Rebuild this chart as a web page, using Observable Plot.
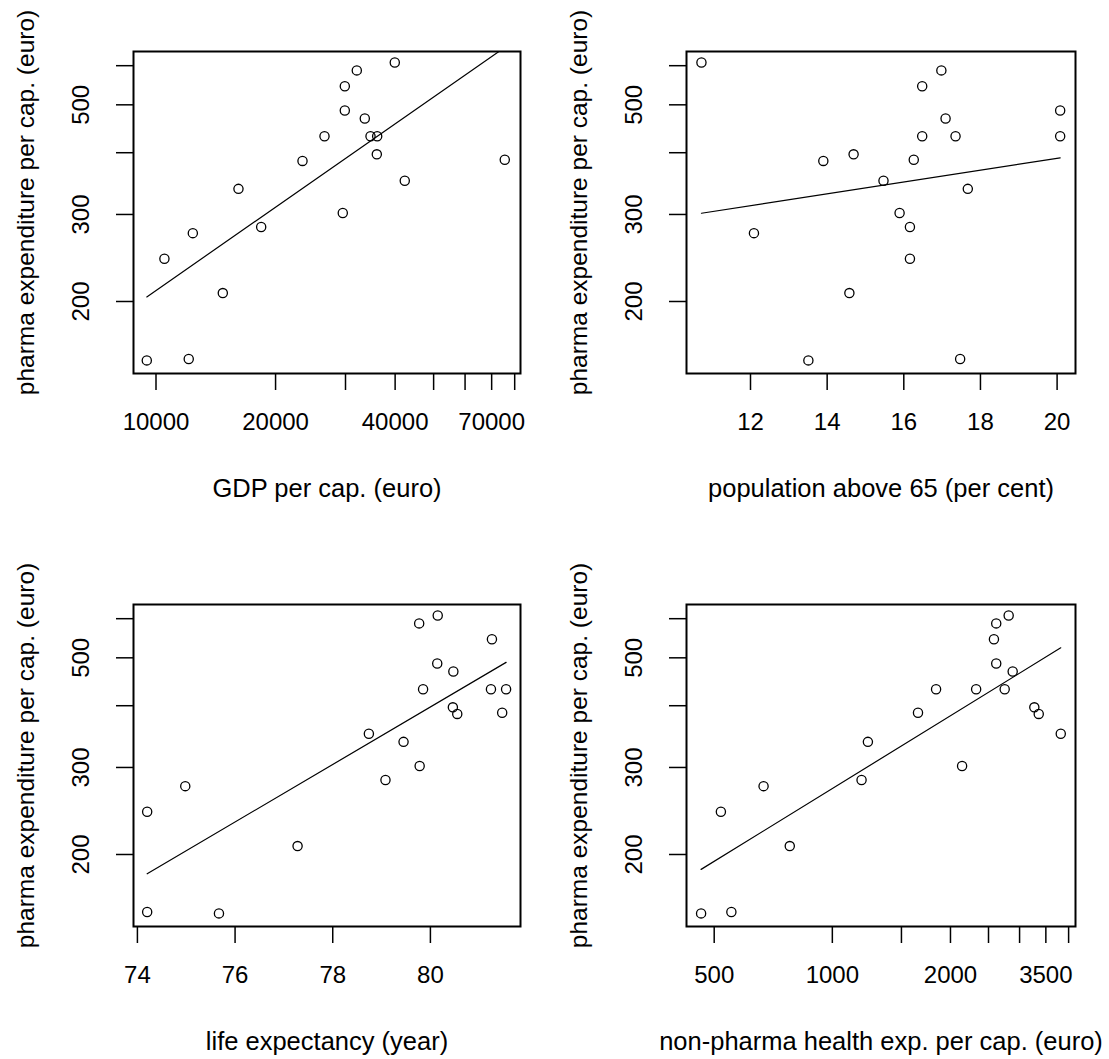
<!DOCTYPE html>
<html>
<head>
<meta charset="utf-8">
<script src="https://cdn.jsdelivr.net/npm/d3@7"></script>
<script src="https://cdn.jsdelivr.net/npm/@observablehq/plot@0.6"></script>
<style>
  html, body { margin: 0; padding: 0; background: #fff; }
  #root { position: relative; width: 1109px; height: 1059px; overflow: hidden; background: #fff; }
  .cell { position: absolute; }
</style>
</head>
<body>
<div id="root"></div>
<script>
// ---- data (one entry per country) ----
const pharma    = [609, 587, 545, 487, 469, 432, 432, 432, 385, 397, 387, 351, 338, 302, 283, 275, 244, 208, 152, 153];
const gdp       = [39920, 32030, 29880, 29880, 33550, 26560, 34680, 36050, 23380, 35970, 75530, 42300, 16130, 29530, 18400, 12380, 10500, 14730, 9480, 12090];
const pop65     = [10.72, 16.98, 16.48, 20.08, 17.09, 16.48, 17.35, 20.08, 13.90, 14.69, 16.26, 15.47, 17.67, 15.89, 16.16, 12.09, 16.16, 14.58, 13.51, 17.47];
const lifeExp   = [80.15, 79.77, 81.26, 80.14, 80.47, 79.85, 81.24, 81.55, 80.55, 80.46, 81.47, 78.74, 79.45, 79.78, 79.08, 74.98, 74.20, 77.28, 75.67, 74.20];
const nonPharma = [2814, 2616, 2581, 2616, 2881, 1838, 2325, 2749, 3357, 3271, 1653, 3820, 1232, 2141, 1187, 668, 520, 779, 463, 553];

// ---- ticks and labels ----
const yTicks = [200, 300, 400, 500, 600];
const yTickLabels = [200, 300, 500];
const gdpTicks = [10000, 20000, 30000, 40000, 50000, 60000, 70000, 80000];
const gdpTickLabels = [10000, 20000, 40000, 70000];
const popTicks = [12, 14, 16, 18, 20];
const lifeTicks = [74, 76, 78, 80];
const nonPharmaTicks = [500, 1000, 1500, 2000, 2500, 3000, 3500, 4000];
const nonPharmaTickLabels = [500, 1000, 2000, 3500];
const yTitle = "pharma expenditure per cap. (euro)";
const xTitles = ["GDP per cap. (euro)", "population above 65 (per cent)", "life expectancy (year)", "non-pharma health exp. per cap. (euro)"];

const FONT = "'Liberation Sans', Arial, Helvetica, sans-serif";

// least-squares fit of log(y) on x (or log x), drawn from min to max x
function fitLine(xs, ys, logX) {
  const u = xs.map(v => logX ? Math.log(v) : v);
  const w = ys.map(v => Math.log(v));
  const mu = d3.mean(u), mw = d3.mean(w);
  const b = d3.sum(u, (ui, i) => (ui - mu) * (w[i] - mw)) / d3.sum(u, ui => (ui - mu) ** 2);
  const a = mw - b * mu;
  return d3.extent(xs).map(x => ({x, y: Math.exp(a + b * (logX ? Math.log(x) : x))}));
}

function panel(cfg) {
  const logX = cfg.xType === "log";
  const data = cfg.xs.map((x, i) => ({x, y: pharma[i]}));
  const line = fitLine(cfg.xs, pharma, logX);
  return Plot.plot({
    width: 554,
    height: cfg.height,
    marginLeft: 133,
    marginRight: cfg.marginRight,
    marginTop: 51,
    marginBottom: cfg.height - 373,
    style: {fontFamily: FONT, fontSize: "24px", color: "#000", background: "#fff", overflow: "visible"},
    x: {type: cfg.xType, domain: cfg.xDomain},
    y: {type: "log", domain: [143, 641]},
    marks: [
      Plot.axisX({ticks: cfg.xTicks, tickSize: 17, tickPadding: 22, strokeWidth: 1.5,
        tickFormat: d => cfg.xTickLabels.includes(d) ? String(d) : "", label: null, fontSize: 24}),
      Plot.axisY({ticks: yTicks, tickSize: 17, strokeWidth: 1.5, tickFormat: () => "", label: null}),
      Plot.text(yTickLabels, {y: d => d, text: d => String(d), frameAnchor: "left", dx: -45,
        rotate: -90, textAnchor: "middle", lineAnchor: "bottom", fontSize: 24}),
      Plot.text([yTitle], {text: d => d, frameAnchor: "left", dx: -100, dy: -10, rotate: -90,
        textAnchor: "middle", lineAnchor: "bottom", fontSize: 24.5}),
      Plot.text([cfg.xTitle], {text: d => d, frameAnchor: "bottom", dy: 123, lineAnchor: "bottom", fontSize: 25.5}),
      Plot.line(line, {x: "x", y: "y", stroke: "#000", strokeWidth: 1.2, clip: true}),
      Plot.dot(data, {x: "x", y: "y", r: 4.6, stroke: "#000", strokeWidth: 1.3, fill: "none"}),
      Plot.frame({stroke: "#000", strokeWidth: 2})
    ]
  });
}

const panels = [
  {left: 0, top: 0, height: 553, marginRight: 34, xs: gdp, xType: "log", xDomain: [8777, 82740],
   xTicks: gdpTicks, xTickLabels: gdpTickLabels, xTitle: xTitles[0]},
  {left: 553, top: 0, height: 553, marginRight: 32, xs: pop65, xType: "linear", xDomain: [10.33, 20.48],
   xTicks: popTicks, xTickLabels: popTicks, xTitle: xTitles[1]},
  {left: 0, top: 553, height: 506, marginRight: 34, xs: lifeExp, xType: "linear", xDomain: [73.92, 81.845],
   xTicks: lifeTicks, xTickLabels: lifeTicks, xTitle: xTitles[2]},
  {left: 553, top: 553, height: 506, marginRight: 32, xs: nonPharma, xType: "log", xDomain: [425, 4165],
   xTicks: nonPharmaTicks, xTickLabels: nonPharmaTickLabels, xTitle: xTitles[3]}
];

const root = document.getElementById("root");
for (const p of panels) {
  const cell = document.createElement("div");
  cell.className = "cell";
  cell.style.left = p.left + "px";
  cell.style.top = p.top + "px";
  cell.appendChild(panel(p));
  root.appendChild(cell);
}
</script>
</body>
</html>
